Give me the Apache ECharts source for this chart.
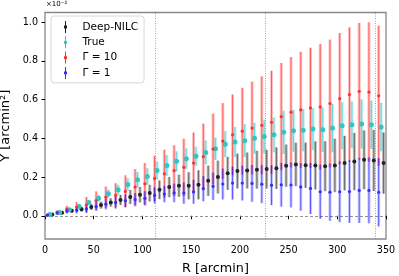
<!DOCTYPE html>
<html>
<head>
<meta charset="utf-8">
<script src="https://cdn.jsdelivr.net/npm/echarts@6/dist/echarts.min.js"></script>
<style>
html,body{margin:0;padding:0;background:#fff;}
#chart{width:399px;height:276px;}
</style>
</head>
<body>
<div id="chart"></div>
<script>
// Bin centres (arcmin)
const R = [5,15,25,35,45,55,65,75,85,95,105,115,125,135,145,155,165,175,185,195,205,215,225,235,245,255,265,275,285,295,305,315,325,335,345];

// Values in units of 1e-2 arcmin^2
const deepNilc    = [0.006,0.015,0.026,0.034,0.045,0.055,0.069,0.082,0.097,0.109,0.117,0.134,0.148,0.155,0.155,0.160,0.181,0.200,0.219,0.231,0.234,0.238,0.241,0.246,0.259,0.265,0.261,0.260,0.256,0.260,0.272,0.280,0.289,0.286,0.272];
const deepNilcErr = [0.002,0.006,0.010,0.012,0.015,0.018,0.022,0.026,0.036,0.040,0.043,0.048,0.052,0.057,0.070,0.075,0.078,0.085,0.085,0.090,0.093,0.098,0.100,0.107,0.109,0.112,0.117,0.124,0.129,0.138,0.141,0.148,0.152,0.158,0.158];

const trueY       = [0.006,0.017,0.031,0.048,0.069,0.090,0.114,0.134,0.162,0.186,0.203,0.234,0.260,0.281,0.295,0.307,0.327,0.346,0.370,0.381,0.388,0.400,0.409,0.418,0.431,0.439,0.442,0.448,0.444,0.453,0.465,0.470,0.474,0.470,0.458];
const trueErr     = [0.002,0.005,0.008,0.010,0.013,0.016,0.020,0.026,0.032,0.040,0.043,0.047,0.054,0.052,0.053,0.050,0.062,0.058,0.067,0.078,0.085,0.080,0.088,0.090,0.112,0.108,0.109,0.109,0.115,0.125,0.122,0.121,0.127,0.125,0.125];

const gamma10     = [0.004,0.019,0.034,0.045,0.057,0.079,0.096,0.106,0.126,0.148,0.165,0.193,0.217,0.233,0.250,0.272,0.305,0.345,0.386,0.418,0.437,0.453,0.467,0.483,0.512,0.535,0.547,0.557,0.563,0.580,0.605,0.626,0.643,0.639,0.620];
const gamma10Err  = [0.003,0.008,0.017,0.026,0.040,0.047,0.055,0.062,0.083,0.093,0.107,0.117,0.124,0.131,0.148,0.158,0.171,0.183,0.196,0.208,0.224,0.240,0.253,0.266,0.277,0.285,0.300,0.311,0.324,0.330,0.339,0.347,0.353,0.360,0.362];

const gamma1      = [0.004,0.014,0.024,0.029,0.036,0.048,0.060,0.069,0.078,0.083,0.090,0.105,0.112,0.118,0.117,0.124,0.140,0.152,0.164,0.169,0.169,0.167,0.163,0.158,0.160,0.159,0.149,0.141,0.124,0.122,0.124,0.125,0.131,0.131,0.121];
const gamma1Err   = [0.003,0.008,0.012,0.016,0.020,0.023,0.027,0.032,0.032,0.034,0.037,0.041,0.042,0.048,0.055,0.062,0.065,0.071,0.080,0.085,0.090,0.095,0.098,0.103,0.113,0.116,0.123,0.132,0.140,0.148,0.157,0.162,0.168,0.170,0.176];

const xTicks = [0,50,100,150,200,250,300,350];
const yTicks = [0,0.2,0.4,0.6,0.8,1.0];
const vLines = [113,226,339];
const seriesNames = ['Deep-NILC','True','Γ = 10','Γ = 1'];

const FONT = 'DejaVu Sans';
const chart = echarts.init(document.getElementById('chart'), null, {renderer:'canvas'});

const styles = [
  {y: deepNilc, e: deepNilcErr, dx:  2.5, band:'rgba(60,60,60,0.35)',  core:'rgba(40,40,40,0.55)', mk:'#222222', size:4},
  {y: trueY,    e: trueErr,     dx:  0,   band:'rgba(0,191,191,0.25)', core:'rgba(0,191,191,0.45)', mk:'#33c4c4', size:5},
  {y: gamma10,  e: gamma10Err,  dx: -2.5, band:'rgba(255,0,0,0.25)',   core:'rgba(255,0,0,0.5)',   mk:'#ff3030', size:3.2},
  {y: gamma1,   e: gamma1Err,   dx: -2.5, band:'rgba(0,0,255,0.22)',   core:'rgba(0,0,255,0.55)',  mk:'#3030ff', size:3.2}
];

const series = [];
styles.forEach((s, k) => {
  const errData = R.map((r, i) => [r + s.dx, s.y[i] - s.e[i], s.y[i] + s.e[i]]);
  series.push({
    name: seriesNames[k] + ' err',
    type: 'custom',
    z: 2 + k,
    silent: true,
    data: errData,
    encode: {x: 0, y: [1, 2]},
    renderItem: (params, api) => {
      const x = api.value(0);
      const p1 = api.coord([x, api.value(1)]);
      const p2 = api.coord([x, api.value(2)]);
      return {type:'group', children:[
        {type:'line', shape:{x1:p1[0], y1:p1[1], x2:p2[0], y2:p2[1]},
         style:{stroke:s.band, lineWidth:3}},
        {type:'line', shape:{x1:p1[0], y1:p1[1], x2:p2[0], y2:p2[1]},
         style:{stroke:s.core, lineWidth:1}}
      ]};
    }
  });
});
styles.forEach((s, k) => {
  series.push({
    name: seriesNames[k],
    type: 'scatter',
    z: 10 + k,
    symbol: 'circle',
    symbolSize: s.size,
    itemStyle: {color: s.mk, opacity: 1},
    data: R.map((r, i) => [r + s.dx, s.y[i]])
  });
});

// reference lines
series.push({
  name: 'refs',
  type: 'line',
  data: [],
  silent: true,
  z: 1,
  markLine: {
    silent: true,
    symbol: ['none','none'],
    label: {show:false},
    animation: false,
    data: vLines.map(v => ({xAxis: v, lineStyle:{color:'#d46a6a', width:0.8, type:[1,1.5]}}))
      .concat([{yAxis: 0, lineStyle:{color:'#777777', width:0.8, type:[3,2]}}])
  }
});

const option = {
  animation: false,
  backgroundColor: '#ffffff',
  textStyle: {fontFamily: FONT},
  grid: {left:45, right:13, top:12.5, bottom:37, outerBoundsMode:'none', containLabel:false,
         show:true, borderColor:'#888888', borderWidth:1.3, backgroundColor:'transparent'},
  legend: {
    data: seriesNames,
    orient: 'vertical',
    left: 51,
    top: 16,
    itemWidth: 4,
    itemHeight: 12,
    itemGap: 3.3,
    padding: [5, 6, 4, 13],
    borderColor: '#d8d8d8',
    borderWidth: 1,
    borderRadius: 3,
    backgroundColor: 'rgba(255,255,255,0.85)',
    icon: 'path://M1.5,0 L2.5,0 L2.5,12 L1.5,12 Z M0.5,4.6 L3.5,4.6 L3.5,7.4 L0.5,7.4 Z',
    textStyle: {fontFamily: FONT, fontSize: 10.5, color:'#000', padding:[0,0,0,10]}
  },
  xAxis: {
    type: 'value',
    min: 0, max: 350, interval: 50,
    name: 'R [arcmin]',
    nameLocation: 'middle',
    nameGap: 23,
    nameTextStyle: {fontFamily: FONT, fontSize: 12.8, color:'#000'},
    axisLine: {show:false},
    axisTick: {show:true, length:3.5, lineStyle:{color:'#000', width:1}},
    axisLabel: {fontFamily: FONT, fontSize: 9.6, color:'#000', margin:6},
    splitLine: {show:false}
  },
  yAxis: {
    type: 'value',
    min: -0.12, max: 1.05,
    name: 'Y [arcmin²]',
    nameLocation: 'middle',
    nameGap: 32,
    nameTextStyle: {fontFamily: FONT, fontSize: 13, color:'#000'},
    axisLine: {show:false},
    axisTick: {show:true, length:3.5, lineStyle:{color:'#000', width:1}, customValues: yTicks},
    axisLabel: {fontFamily: FONT, fontSize: 9.6, color:'#000', margin:7, customValues: yTicks,
                formatter: v => v.toFixed(1)},
    splitLine: {show:false}
  },
  graphic: [{
    type: 'text',
    left: 46, top: 1,
    style: {text: '×10⁻²', fontFamily: FONT, fontSize: 7, fill: '#000'}
  }],
  series: series
};
chart.setOption(option);
</script>
</body>
</html>
